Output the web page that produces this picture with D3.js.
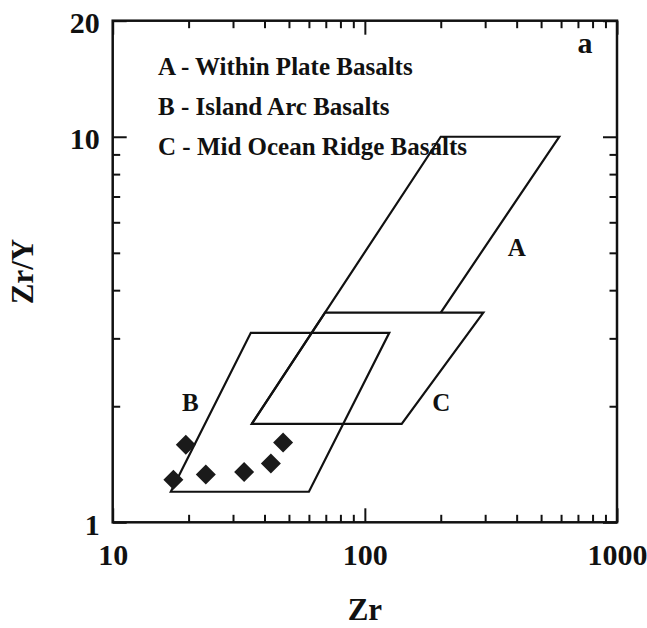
<!DOCTYPE html>
<html>
<head>
<meta charset="utf-8">
<script src="https://cdn.jsdelivr.net/npm/d3@7"></script>
<style>
  body { margin: 0; background: #fff; }
  svg { display: block; }
  text { font-family: "Times New Roman", "Liberation Serif", serif; font-weight: bold; fill: #111; }
</style>
</head>
<body>
<script>

//------------------------------------------------------------------------------
// Data
//------------------------------------------------------------------------------

// samples: [Zr, Zr/Y]
var samples = [
  [17.4, 1.29], [19.5, 1.59], [23.4, 1.33],
  [33.2, 1.35], [42.4, 1.42], [47.4, 1.61]
];

// discrimination fields (Pearce & Norry), vertices as [Zr, Zr/Y]
var fieldA = [[35.6, 1.8], [200, 10], [590, 10], [200, 3.5]];   // open, closes on C
var fieldB = [[17, 1.2], [35.3, 3.1], [125, 3.1], [60, 1.2]];
var fieldC = [[35.6, 1.8], [69.5, 3.5], [295, 3.5], [140, 1.8]];

var fieldLabels = [
  {text: "A", x: 400, y: 4.9},
  {text: "B", x: 20.3, y: 1.94},
  {text: "C", x: 201, y: 1.94}
];

var legendLines = [
  "A - Within Plate Basalts",
  "B - Island Arc Basalts",
  "C - Mid Ocean Ridge Basalts"
];

var xMajor = [10, 100, 1000];
var xMinor = [20, 30, 40, 50, 60, 70, 80, 90, 200, 300, 400, 500, 600, 700, 800, 900];
var yMajor = [1, 10, 20];
var yMinor = [2, 3, 4, 5, 6, 7, 8, 9];

//------------------------------------------------------------------------------
// Layout
//------------------------------------------------------------------------------

var width = 647, height = 628;
var margin = {top: 20.7, right: 30, bottom: 105.7, left: 112.7};
var majorLen = 14, minorLen = 7.5;

var svg = d3.select("body").append("svg")
  .attr("width", width)
  .attr("height", height);

var x = d3.scaleLog().domain([10, 1000]).range([margin.left, width - margin.right]);
var y = d3.scaleLog().domain([1, 20]).range([height - margin.bottom, margin.top]);

//--------------------------------------
// Axes (ticks point inward)
//--------------------------------------

function axisPair(axisFn, translate, values, len, labels) {
  var g = svg.append("g")
    .attr("transform", translate)
    .call(axisFn.tickValues(values).tickSize(-len).tickFormat(labels ? d3.format("d") : ""));
  g.select(".domain").remove();
  g.selectAll(".tick line").attr("stroke", "#111").attr("stroke-width", 2);
  return g;
}

var bottomY = y(1), topY = y(20), leftX = x(10), rightX = x(1000);

// bottom
axisPair(d3.axisBottom(x), "translate(0," + bottomY + ")", xMinor, minorLen, false);
var bx = axisPair(d3.axisBottom(x), "translate(0," + bottomY + ")", xMajor, majorLen, true);
bx.selectAll(".tick text")
  .attr("y", 43).attr("dy", null)
  .style("font-size", "30px");

// top
axisPair(d3.axisTop(x), "translate(0," + topY + ")", xMinor, minorLen, false);
axisPair(d3.axisTop(x), "translate(0," + topY + ")", xMajor, majorLen, false);

// left
axisPair(d3.axisLeft(y), "translate(" + leftX + ",0)", yMinor, minorLen, false);
var ly = axisPair(d3.axisLeft(y), "translate(" + leftX + ",0)", yMajor, majorLen, true);
ly.selectAll(".tick text")
  .attr("x", -13).attr("dy", "0.4em")
  .style("font-size", "30px");

// right
axisPair(d3.axisRight(y), "translate(" + rightX + ",0)", yMinor, minorLen, false);
axisPair(d3.axisRight(y), "translate(" + rightX + ",0)", yMajor, majorLen, false);

// frame
svg.append("rect")
  .attr("x", leftX).attr("y", topY)
  .attr("width", rightX - leftX).attr("height", bottomY - topY)
  .attr("fill", "none").attr("stroke", "#111").attr("stroke-width", 2.5);

//--------------------------------------
// Fields
//--------------------------------------

var line = d3.line().x(function(d) { return x(d[0]); }).y(function(d) { return y(d[1]); });

svg.selectAll(".field")
  .data([
    {pts: fieldA, closed: false},
    {pts: fieldB, closed: true},
    {pts: fieldC, closed: true}
  ])
  .enter().append("path")
  .attr("class", "field")
  .attr("d", function(d) { return line(d.pts) + (d.closed ? "Z" : ""); })
  .attr("fill", "none")
  .attr("stroke", "#111")
  .attr("stroke-width", 2.2)
  .attr("stroke-linejoin", "miter");

svg.selectAll(".field-label")
  .data(fieldLabels)
  .enter().append("text")
  .attr("class", "field-label")
  .attr("x", function(d) { return x(d.x); })
  .attr("y", function(d) { return y(d.y); })
  .attr("text-anchor", "middle")
  .style("font-size", "25px")
  .text(function(d) { return d.text; });

//--------------------------------------
// Samples
//--------------------------------------

// square turned 45 degrees
var diamond = {
  draw: function(ctx, size) {
    var r = Math.sqrt(size / 2);
    ctx.moveTo(0, -r); ctx.lineTo(r, 0); ctx.lineTo(0, r); ctx.lineTo(-r, 0); ctx.closePath();
  }
};

svg.selectAll(".sample")
  .data(samples)
  .enter().append("path")
  .attr("class", "sample")
  .attr("transform", function(d) { return "translate(" + x(d[0]) + "," + y(d[1]) + ")"; })
  .attr("d", d3.symbol().type(diamond).size(200))
  .attr("fill", "#1a1a1a");

//--------------------------------------
// Legend and titles
//--------------------------------------

svg.selectAll(".legend")
  .data(legendLines)
  .enter().append("text")
  .attr("class", "legend")
  .attr("x", 158)
  .attr("y", function(d, i) { return 75 + i * 40; })
  .style("font-size", "25px")
  .text(function(d) { return d; });

svg.append("text")
  .attr("x", 585).attr("y", 53)
  .attr("text-anchor", "middle")
  .style("font-size", "30px")
  .text("a");

svg.append("text")
  .attr("x", (leftX + rightX) / 2).attr("y", 620)
  .attr("text-anchor", "middle")
  .style("font-size", "31px")
  .text("Zr");

svg.append("text")
  .attr("transform", "translate(33," + ((topY + bottomY) / 2) + ") rotate(-90)")
  .attr("text-anchor", "middle")
  .style("font-size", "31px")
  .text("Zr/Y");

</script>
</body>
</html>
